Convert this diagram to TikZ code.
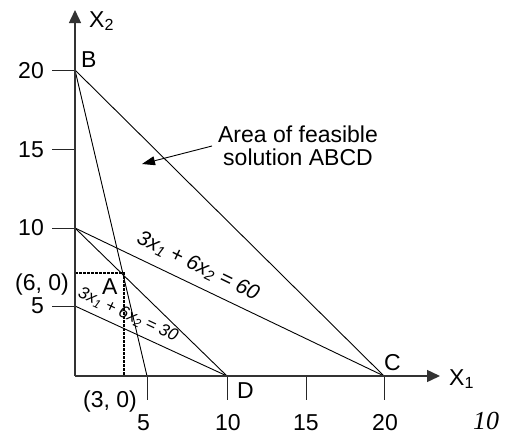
\documentclass[tikz,border=0pt]{standalone}
\usepackage{fontspec}
\setmainfont{Liberation Sans}
\newfontfamily\pagefont{Liberation Serif}
\usetikzlibrary{arrows.meta}
\tikzset{
  lbl/.style={inner sep=0pt, font=\fontsize{23}{25}\selectfont},
  eqlbl/.style={inner sep=0pt, font=\itshape\fontsize{#1}{#1}\selectfont},
  axisline/.style={line width=1.4pt, draw=black!80, -{Triangle[length=13pt,width=12pt]}},
  tickline/.style={line width=1pt, draw=black!85},
  constr/.style={line width=0.9pt, draw=black},
  dotline/.style={line width=1.4pt, draw=black, dash pattern=on 2.5pt off 1.5pt},
  pointer/.style={line width=0.9pt, draw=black, -{Triangle[length=13pt,width=9pt]}}
}
\begin{document}
\begin{tikzpicture}[x=1pt,y=-1pt]
\useasboundingbox (0,0) rectangle (509,434);
% key points (pixel coordinates)
\coordinate (O) at (75,376);
\coordinate (B) at (75,70);
\coordinate (Y15) at (75,149);
\coordinate (Y10) at (75,228);
\coordinate (Y5) at (75,306);
\coordinate (X5) at (147,376);
\coordinate (D) at (227,376);
\coordinate (X15) at (306,376);
\coordinate (C) at (384,376);
\coordinate (Yend) at (75,10);
\coordinate (Xend) at (440,376);
\coordinate (Ah) at (75,273);
\coordinate (Ac) at (124,273);
\coordinate (Av) at (124,376);
\coordinate (Ps) at (212,146);
\coordinate (Pe) at (142,164);
% ticks
\coordinate (T20) at (52,70);
\coordinate (T15) at (52,149);
\coordinate (T10) at (52,228);
\coordinate (T5) at (52,306);
\coordinate (U5) at (147,400);
\coordinate (U10) at (227,400);
\coordinate (U15) at (306,400);
\coordinate (U20) at (384,400);
\draw[tickline] (T20) -- (B);
\draw[tickline] (T15) -- (Y15);
\draw[tickline] (T10) -- (Y10);
\draw[tickline] (T5) -- (Y5);
\draw[tickline] (X5) -- (U5);
\draw[tickline] (D) -- (U10);
\draw[tickline] (X15) -- (U15);
\draw[tickline] (C) -- (U20);
% constraint lines
\draw[constr] (B) -- (C);
\draw[constr] (B) -- (X5);
\draw[constr] (Y10) -- (C);
\draw[constr] (Y10) -- (D);
\draw[constr] (Y5) -- (D);
% dotted
\draw[dotline] (Ah) -- (Ac) -- (Av);
% axes
\draw[axisline] (O) -- (Yend);
\draw[axisline] (O) -- (Xend);
% pointer
\draw[pointer] (Ps) -- (Pe);
% labels
\node[lbl, anchor=base west] (lx2) at (89,27) {X\textsubscript{2}};
\node[lbl, anchor=base west] (lx1) at (449,385) {X\textsubscript{1}};
\node[lbl, anchor=base west] (lB) at (81,67) {B};
\node[lbl, anchor=base west] (lC) at (384,370) {C};
\node[lbl, anchor=base west] (lD) at (237,398) {D};
\node[lbl, anchor=base west] (lA) at (102,294) {A};
\node[lbl, anchor=base east] (l20) at (44,78) {20};
\node[lbl, anchor=base east] (l15) at (44,157) {15};
\node[lbl, anchor=base east] (l10) at (44,235) {10};
\node[lbl, anchor=base east] (l5) at (44,313) {5};
\node[lbl, anchor=base east] (l60) at (69,290) {(6, 0)};
\node[lbl, anchor=base] (l30) at (110,407) {(3, 0)};
\node[lbl, anchor=base] (x5) at (143.5,430) {5};
\node[lbl, anchor=base] (x10) at (228,430) {10};
\node[lbl, anchor=base] (x15) at (306,430) {15};
\node[lbl, anchor=base] (x20) at (385,430) {20};
\node[lbl, align=center, font=\fontsize{23}{23}\selectfont] (area) at (298,146) {Area of feasible\\solution ABCD};
\node[eqlbl=21, rotate=-26] (eq60) at (198,266) {3x\textsubscript{1} + 6x\textsubscript{2} = 60};
\node[eqlbl=17, rotate=-25] (eq30) at (128,315) {3x\textsubscript{1} + 6x\textsubscript{2} = 30};
\node[inner sep=0pt, anchor=base, font=\pagefont\itshape\fontsize{26}{26}\selectfont] (pg) at (486,429) {10};
\end{tikzpicture}
\end{document}
